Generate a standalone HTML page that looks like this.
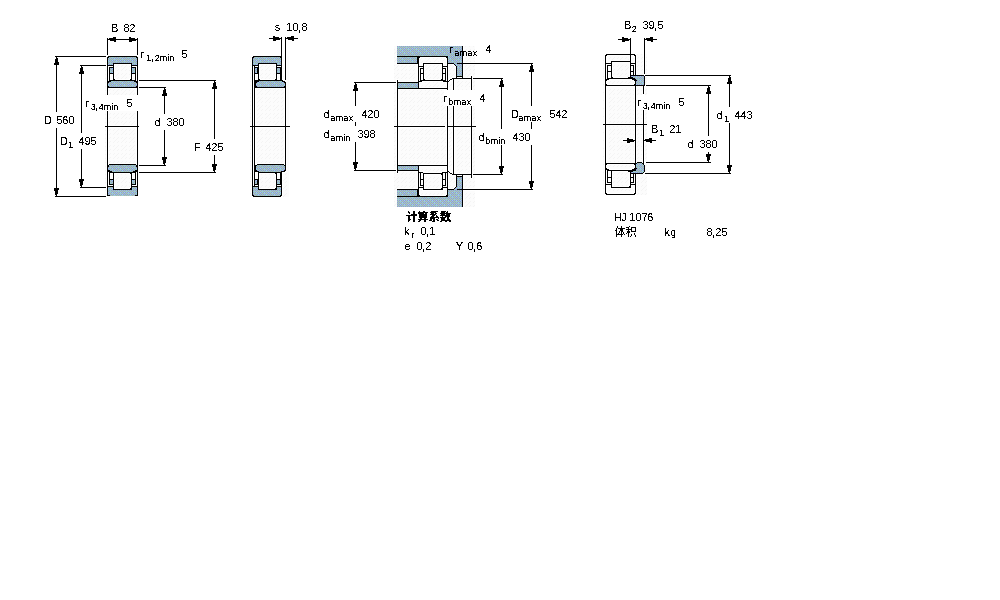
<!DOCTYPE html>
<html lang="zh">
<head>
<meta charset="utf-8">
<title>HJ 1076</title>
<style>
html,body{margin:0;padding:0;background:#fff;width:1000px;height:600px;overflow:hidden}
svg{display:block;position:absolute;left:0;top:0}
text{font-family:"Liberation Sans","Noto Sans CJK SC",sans-serif;font-size:11px;fill:#000}
.s{font-size:9px}
.cm{font-size:12px}
.c{font-family:"Liberation Sans","Noto Sans CJK SC",sans-serif;font-size:11px}
.cb{font-family:"Liberation Sans","Noto Sans CJK SC",sans-serif;font-size:11.5px;font-weight:bold}
.k{font-family:"Liberation Mono",monospace;font-size:10px}
</style>
</head>
<body>
<svg width="1000" height="600" viewBox="0 0 1000 600">
<defs>
<pattern id="d" width="8" height="8" patternUnits="userSpaceOnUse" shape-rendering="crispEdges">
<rect width="8" height="8" fill="#9cc"/>
<path fill="#99c" d="M1 0h1v1h-1zM3 0h1v1h-1zM5 0h1v1h-1zM7 0h1v1h-1zM1 2h1v1h-1zM3 2h1v1h-1zM5 2h1v1h-1zM7 2h1v1h-1zM1 4h1v1h-1zM3 4h1v1h-1zM5 4h1v1h-1zM7 4h1v1h-1zM1 6h1v1h-1zM3 6h1v1h-1zM5 6h1v1h-1zM7 6h1v1h-1zM4 1h1v1h-1zM0 5h1v1h-1z"/>
<path fill="#9cf" d="M0 0h1v1h-1zM4 0h1v1h-1zM2 2h1v1h-1zM0 4h1v1h-1zM4 4h1v1h-1z"/>
<path fill="#acacaa" d="M0 7h1v1h-1zM2 7h1v1h-1zM4 7h1v1h-1zM2 1h1v1h-1zM6 1h1v1h-1zM0 3h1v1h-1zM4 3h1v1h-1zM6 3h1v1h-1zM2 5h1v1h-1zM6 5h1v1h-1z"/>
</pattern>
<pattern id="h" width="8" height="8" patternUnits="userSpaceOnUse" shape-rendering="crispEdges">
<rect width="8" height="8" fill="#fcfcfc"/>
<path fill="#f4f4f4" d="M2 1h1v1h-1zM6 1h1v1h-1zM1 2h1v1h-1zM5 2h1v1h-1zM4 3h1v1h-1zM3 4h1v1h-1zM2 5h1v1h-1zM6 5h1v1h-1zM1 6h1v1h-1zM5 6h1v1h-1z"/>
</pattern>
<filter id="t" filterUnits="userSpaceOnUse" x="0" y="0" width="1000" height="600" color-interpolation-filters="sRGB"><feComponentTransfer><feFuncA type="discrete" tableValues="0 0 1 1 1"/></feComponentTransfer></filter>
<path id="b" d="M108 56h29v1h-29zM108 57h1v1h-1zM136 57h1v1h-1zM113 63h19v1h-19zM113 63h1v18h-1zM131 63h1v18h-1zM113 80h19v1h-19zM114 79h1v1h-1zM130 79h1v1h-1zM107 65h7v1h-7zM131 65h7v1h-7zM109 67h5v1h-5zM131 67h5v1h-5zM109 67h1v14h-1zM135 67h1v14h-1zM109 73h5v1h-5zM131 73h5v1h-5zM113 189h19v1h-19zM113 172h1v18h-1zM131 172h1v18h-1zM113 172h19v1h-19zM130 173h1v1h-1zM130 188h1v1h-1zM107 186h7v1h-7zM131 186h7v1h-7zM109 184h5v1h-5zM131 184h5v1h-5zM109 172h1v13h-1zM135 172h1v13h-1zM109 179h5v1h-5zM131 179h5v1h-5zM107 195h3v1h-3zM135 195h3v1h-3zM109 80h27v1h-27zM107 87h31v1h-31zM107 81h1v7h-1zM137 81h1v7h-1zM108 81h3v1h-3zM134 81h3v1h-3zM108 82h1v1h-1zM136 82h1v1h-1zM108 86h1v1h-1zM136 86h1v1h-1zM109 172h27v1h-27zM109 164h27v1h-27zM107 164h1v8h-1zM137 164h1v8h-1zM108 171h4v1h-4zM133 171h4v1h-4zM108 170h2v1h-2zM135 170h2v1h-2zM108 165h1v1h-1zM136 165h1v1h-1zM108 166h1v1h-1zM136 166h1v1h-1zM107 57h1v38h-1zM107 111h1v85h-1zM137 57h1v38h-1zM137 111h1v85h-1zM107 38h1v17h-1zM137 38h1v17h-1zM108 39h29v1h-29zM108 39h1v1h-1zM109 38h1v2h-1zM110 38h1v3h-1zM111 38h1v3h-1zM112 38h1v3h-1zM113 37h1v4h-1zM114 37h1v5h-1zM115 37h1v5h-1zM136 39h1v1h-1zM135 39h1v2h-1zM134 38h1v3h-1zM133 38h1v3h-1zM132 38h1v3h-1zM131 38h1v4h-1zM130 37h1v5h-1zM129 37h1v5h-1zM55 56h51v1h-51zM55 196h51v1h-51zM56 56h1v56h-1zM56 128h1v69h-1zM56 57h1v1h-1zM56 58h2v1h-2zM55 59h3v1h-3zM55 60h3v1h-3zM55 61h3v1h-3zM55 62h4v1h-4zM54 63h5v1h-5zM54 64h5v1h-5zM56 195h1v1h-1zM55 194h2v1h-2zM55 193h3v1h-3zM55 192h3v1h-3zM55 191h3v1h-3zM54 190h4v1h-4zM54 189h5v1h-5zM54 188h5v1h-5zM80 65h26v1h-26zM80 187h26v1h-26zM81 65h1v68h-1zM81 149h1v39h-1zM81 66h1v1h-1zM81 67h2v1h-2zM80 68h3v1h-3zM80 69h3v1h-3zM80 70h3v1h-3zM80 71h4v1h-4zM79 72h5v1h-5zM79 73h5v1h-5zM81 186h1v1h-1zM80 185h2v1h-2zM80 184h3v1h-3zM80 183h3v1h-3zM80 182h3v1h-3zM79 181h4v1h-4zM79 180h5v1h-5zM79 179h5v1h-5zM139 80h77v1h-77zM139 172h77v1h-77zM214 80h1v59h-1zM214 155h1v18h-1zM214 81h1v1h-1zM214 82h2v1h-2zM213 83h3v1h-3zM213 84h3v1h-3zM213 85h3v1h-3zM213 86h4v1h-4zM212 87h5v1h-5zM212 88h5v1h-5zM214 171h1v1h-1zM213 170h2v1h-2zM213 169h3v1h-3zM213 168h3v1h-3zM213 167h3v1h-3zM212 166h4v1h-4zM212 165h5v1h-5zM212 164h5v1h-5zM139 87h27v1h-27zM139 165h27v1h-27zM164 87h1v27h-1zM164 130h1v36h-1zM164 88h1v1h-1zM164 89h2v1h-2zM163 90h3v1h-3zM163 91h3v1h-3zM163 92h3v1h-3zM163 93h4v1h-4zM162 94h5v1h-5zM162 95h5v1h-5zM164 164h1v1h-1zM163 163h2v1h-2zM163 162h3v1h-3zM163 161h3v1h-3zM163 160h3v1h-3zM162 159h4v1h-4zM162 158h5v1h-5zM162 157h5v1h-5zM105 126h34v1h-34zM253 56h28v1h-28zM253 57h1v1h-1zM280 57h1v1h-1zM258 63h19v1h-19zM258 63h1v18h-1zM276 63h1v18h-1zM258 80h19v1h-19zM259 79h1v1h-1zM275 79h1v1h-1zM252 65h7v1h-7zM276 65h6v1h-6zM254 67h5v1h-5zM276 67h5v1h-5zM254 67h1v14h-1zM280 67h1v14h-1zM254 73h5v1h-5zM276 73h5v1h-5zM253 196h28v1h-28zM253 195h1v1h-1zM280 195h1v1h-1zM258 189h19v1h-19zM258 172h1v18h-1zM276 172h1v18h-1zM258 172h19v1h-19zM275 173h1v1h-1zM275 188h1v1h-1zM252 186h7v1h-7zM276 186h6v1h-6zM254 184h5v1h-5zM276 184h5v1h-5zM254 172h1v13h-1zM280 172h1v13h-1zM254 179h5v1h-5zM276 179h5v1h-5zM257 67h1v7h-1zM257 179h1v6h-1zM255 80h28v1h-28zM254 87h32v1h-32zM255 81h1v6h-1zM256 81h3v1h-3zM256 82h1v1h-1zM256 86h1v1h-1zM282 81h3v1h-3zM284 82h1v1h-1zM284 86h1v1h-1zM285 82h1v5h-1zM258 172h24v1h-24zM257 164h27v1h-27zM255 165h1v6h-1zM256 165h1v1h-1zM255 171h4v1h-4zM256 170h1v1h-1zM284 165h1v1h-1zM284 170h1v1h-1zM281 171h4v1h-4zM285 165h1v6h-1zM252 57h1v139h-1zM254 66h1v120h-1zM281 37h1v44h-1zM281 172h1v24h-1zM285 37h1v43h-1zM285 88h1v78h-1zM269 38h12v1h-12zM286 38h12v1h-12zM280 38h1v1h-1zM279 38h1v2h-1zM278 37h1v3h-1zM277 37h1v3h-1zM276 37h1v3h-1zM275 37h1v4h-1zM274 36h1v5h-1zM273 36h1v5h-1zM286 38h1v1h-1zM287 37h1v2h-1zM288 37h1v3h-1zM289 37h1v3h-1zM290 37h1v3h-1zM291 36h1v4h-1zM292 36h1v5h-1zM293 36h1v5h-1zM250 126h40v1h-40zM397 56h51v1h-51zM397 196h51v1h-51zM397 63h22v1h-22zM397 189h22v1h-22zM417 57h1v6h-1zM417 190h1v6h-1zM462 46h1v33h-1zM462 174h1v33h-1zM448 63h6v1h-6zM448 189h6v1h-6zM454 64h1v1h-1zM454 188h1v1h-1zM455 65h1v1h-1zM455 187h1v1h-1zM456 66h1v13h-1zM456 174h1v13h-1zM457 63h76v1h-76zM457 189h76v1h-76zM456 76h7v1h-7zM456 176h7v1h-7zM452 78h19v1h-19zM452 174h19v1h-19zM451 79h1v1h-1zM451 173h1v1h-1zM450 79h1v1h-1zM450 173h1v1h-1zM449 80h1v1h-1zM449 172h1v1h-1zM448 81h1v1h-1zM448 171h1v1h-1zM473 78h30v1h-30zM473 174h30v1h-30zM419 56h28v1h-28zM419 57h1v1h-1zM446 57h1v1h-1zM423 63h20v1h-20zM423 63h1v18h-1zM442 63h1v18h-1zM423 80h20v1h-20zM424 79h1v1h-1zM441 79h1v1h-1zM418 66h6v1h-6zM442 66h6v1h-6zM420 68h4v1h-4zM442 68h4v1h-4zM420 68h1v13h-1zM445 68h1v13h-1zM420 73h4v1h-4zM442 73h4v1h-4zM419 196h28v1h-28zM419 195h1v1h-1zM446 195h1v1h-1zM423 189h20v1h-20zM423 173h1v17h-1zM442 173h1v17h-1zM423 173h20v1h-20zM441 174h1v1h-1zM441 188h1v1h-1zM418 187h6v1h-6zM442 187h6v1h-6zM420 185h4v1h-4zM442 185h4v1h-4zM420 173h1v13h-1zM445 173h1v13h-1zM420 179h4v1h-4zM442 179h4v1h-4zM418 81h4v1h-4zM443 81h5v1h-5zM420 80h26v1h-26zM418 172h5v1h-5zM442 172h6v1h-6zM418 56h1v33h-1zM418 165h1v32h-1zM447 56h1v34h-1zM453 78h1v12h-1zM471 76h1v14h-1zM447 106h1v91h-1zM453 106h1v69h-1zM471 106h1v72h-1zM397 82h22v1h-22zM397 88h51v1h-51zM397 170h22v1h-22zM397 165h51v1h-51zM397 80h1v93h-1zM394 126h51v1h-51zM448 126h28v1h-28zM354 82h42v1h-42zM354 170h42v1h-42zM355 82h1v24h-1zM355 122h1v4h-1zM355 142h1v29h-1zM355 83h1v1h-1zM355 84h2v1h-2zM354 85h3v1h-3zM354 86h3v1h-3zM354 87h3v1h-3zM354 88h4v1h-4zM353 89h5v1h-5zM353 90h5v1h-5zM355 169h1v1h-1zM354 168h2v1h-2zM354 167h3v1h-3zM354 166h3v1h-3zM354 165h3v1h-3zM353 164h4v1h-4zM353 163h5v1h-5zM353 162h5v1h-5zM501 78h1v51h-1zM501 145h1v30h-1zM501 79h1v1h-1zM501 80h2v1h-2zM500 81h3v1h-3zM500 82h3v1h-3zM500 83h3v1h-3zM500 84h4v1h-4zM499 85h5v1h-5zM499 86h5v1h-5zM501 173h1v1h-1zM500 172h2v1h-2zM500 171h3v1h-3zM500 170h3v1h-3zM500 169h3v1h-3zM499 168h4v1h-4zM499 167h5v1h-5zM499 166h5v1h-5zM531 63h1v43h-1zM531 122h1v7h-1zM531 145h1v45h-1zM531 64h1v1h-1zM531 65h2v1h-2zM530 66h3v1h-3zM530 67h3v1h-3zM530 68h3v1h-3zM530 69h4v1h-4zM529 70h5v1h-5zM529 71h5v1h-5zM531 188h1v1h-1zM530 187h2v1h-2zM530 186h3v1h-3zM530 185h3v1h-3zM530 184h3v1h-3zM529 183h4v1h-4zM529 182h5v1h-5zM529 181h5v1h-5zM606 54h29v1h-29zM606 55h1v1h-1zM634 55h1v1h-1zM611 61h20v1h-20zM611 61h1v18h-1zM630 61h1v18h-1zM611 78h20v1h-20zM612 77h1v1h-1zM629 77h1v1h-1zM605 63h7v1h-7zM630 63h6v1h-6zM607 65h5v1h-5zM630 65h4v1h-4zM607 65h1v14h-1zM633 65h1v14h-1zM607 71h5v1h-5zM630 71h4v1h-4zM606 194h29v1h-29zM606 193h1v1h-1zM634 193h1v1h-1zM611 187h20v1h-20zM611 170h1v18h-1zM630 170h1v18h-1zM611 170h20v1h-20zM629 171h1v1h-1zM629 186h1v1h-1zM605 184h7v1h-7zM630 184h6v1h-6zM607 182h5v1h-5zM630 182h4v1h-4zM607 170h1v13h-1zM633 170h1v13h-1zM607 177h5v1h-5zM630 177h4v1h-4zM607 78h27v1h-27zM605 85h31v1h-31zM605 79h1v7h-1zM635 79h1v7h-1zM606 79h3v1h-3zM632 79h3v1h-3zM606 80h1v1h-1zM634 80h1v1h-1zM606 84h1v1h-1zM634 84h1v1h-1zM607 170h27v1h-27zM605 163h31v1h-31zM605 163h1v7h-1zM635 163h1v7h-1zM606 169h3v1h-3zM632 169h3v1h-3zM606 168h1v1h-1zM634 168h1v1h-1zM606 164h1v1h-1zM634 164h1v1h-1zM605 55h1v139h-1zM635 55h1v139h-1zM630 38h1v24h-1zM644 38h1v36h-1zM618 39h12v1h-12zM645 39h12v1h-12zM629 39h1v1h-1zM628 39h1v2h-1zM627 38h1v3h-1zM626 38h1v3h-1zM625 38h1v3h-1zM624 38h1v4h-1zM623 37h1v5h-1zM622 37h1v5h-1zM645 39h1v1h-1zM646 38h1v2h-1zM647 38h1v3h-1zM648 38h1v3h-1zM649 38h1v3h-1zM650 37h1v4h-1zM651 37h1v5h-1zM652 37h1v5h-1zM645 75h86v1h-86zM645 173h86v1h-86zM646 85h65v1h-65zM646 162h65v1h-65zM729 75h1v32h-1zM729 123h1v51h-1zM729 76h1v1h-1zM729 77h2v1h-2zM728 78h3v1h-3zM728 79h3v1h-3zM728 80h3v1h-3zM728 81h4v1h-4zM727 82h5v1h-5zM727 83h5v1h-5zM729 172h1v1h-1zM728 171h2v1h-2zM728 170h3v1h-3zM728 169h3v1h-3zM728 168h3v1h-3zM727 167h4v1h-4zM727 166h5v1h-5zM727 165h5v1h-5zM708 85h1v51h-1zM708 152h1v11h-1zM708 86h1v1h-1zM708 87h2v1h-2zM707 88h3v1h-3zM707 89h3v1h-3zM707 90h3v1h-3zM707 91h4v1h-4zM706 92h5v1h-5zM706 93h5v1h-5zM708 161h1v1h-1zM707 160h2v1h-2zM707 159h3v1h-3zM707 158h3v1h-3zM707 157h3v1h-3zM706 156h4v1h-4zM706 155h5v1h-5zM706 154h5v1h-5zM643 85h1v9h-1zM643 110h1v54h-1zM623 140h12v1h-12zM644 140h12v1h-12zM634 140h1v1h-1zM633 140h1v2h-1zM632 139h1v3h-1zM631 139h1v3h-1zM630 139h1v3h-1zM629 139h1v4h-1zM628 138h1v5h-1zM627 138h1v5h-1zM644 140h1v1h-1zM645 139h1v2h-1zM646 139h1v3h-1zM647 139h1v3h-1zM648 139h1v3h-1zM649 138h1v4h-1zM650 138h1v5h-1zM651 138h1v5h-1zM603 124h44v1h-44z"/>
</defs>
<g shape-rendering="crispEdges">
<path fill="url(#h)" d="M105 56h34v140h-34zM250 56h39v141h-39zM394 46h81v161h-81zM603 54h44v141h-44z"/>
<path fill="#fff" d="M86 95h55v16h-55zM444 90h47v16h-47zM637 95h54v15h-54z"/>
<use href="#b" fill="none" stroke="#fff" stroke-width="2"/>
<path fill="url(#d)" d="M108 57h29v6h-29zM108 63h5v2h-5zM132 63h5v2h-5zM110 68h3v5h-3zM132 68h3v5h-3zM108 190h29v6h-29zM108 187h5v3h-5zM132 187h5v3h-5zM110 180h3v4h-3zM132 180h3v4h-3zM108 81h29v6h-29zM108 165h29v7h-29zM253 57h28v6h-28zM253 63h5v2h-5zM277 63h4v2h-4zM255 68h3v5h-3zM277 68h3v5h-3zM253 190h28v6h-28zM253 187h5v3h-5zM277 187h4v3h-4zM255 180h3v4h-3zM277 180h3v4h-3zM256 81h29v6h-29zM256 165h29v7h-29zM397 46h65v10h-65zM397 197h65v10h-65zM448 56h14v7h-14zM448 190h14v7h-14zM397 57h20v6h-20zM397 190h20v6h-20zM454 63h3v1h-3zM454 189h3v1h-3zM455 64h2v1h-2zM455 188h2v1h-2zM456 65h1v1h-1zM456 187h1v1h-1zM457 63h5v13h-5zM457 177h5v13h-5zM398 83h20v5h-20zM398 166h20v4h-20z"/>
<use href="#b" fill="#000"/>
<path fill="url(#d)" d="M631 76h13v1h-13zM633 77h11v1h-11zM635 78h9v1h-9zM636 79h8v6h-8zM637 163h5v1h-5zM636 164h7v1h-7zM636 165h8v6h-8zM633 171h11v1h-11zM631 172h12v1h-12z"/>
<path fill="#000" d="M630 75h14v1h-14zM644 76h1v9h-1zM636 85h9v1h-9zM628 77h5v1h-5zM630 78h5v1h-5zM633 79h3v1h-3zM635 80h2v1h-2zM637 162h5v1h-5zM636 163h1v1h-1zM642 163h1v1h-1zM643 164h1v1h-1zM644 165h1v7h-1zM643 172h1v1h-1zM630 173h13v1h-13zM635 168h2v1h-2zM633 169h3v1h-3zM630 170h5v1h-5zM628 171h5v1h-5z"/>
</g>
<g filter="url(#t)">
<text x="111 120.5 123.5 129.25" y="32">B 82</text>
<text x="140.25 146 151 154.75 159.75 167.25 169.25 178.5 181.5" y="58">r<tspan class="s" dy="3">1</tspan><tspan class="cm">,</tspan><tspan class="s">2min </tspan><tspan dy="-3">5</tspan></text>
<text x="44 53.5 56.5 62.25 68.5" y="124">D 560</text>
<text x="85.25 90.75 95 98.75 103.75 111.25 113.25 123.5 126.5" y="107">r<tspan class="s" dy="3">3</tspan><tspan class="cm">,</tspan><tspan class="s">4min </tspan><tspan dy="-3">5</tspan></text>
<text x="60 68 75.5 78.5 84.5 90.5" y="145">D<tspan class="s" dy="3">1 </tspan><tspan dy="-3">495</tspan></text>
<text x="154.5 163.5 166.5 172.5 178.5" y="126">d 380</text>
<text x="194 202.5 205.5 211.25 217.5" y="151">F 425</text>
<text x="274.75 283.25 286.25 292.5 298 301.5" y="31">s 10<tspan class="cm" dy="1">,</tspan><tspan dy="-1">8</tspan></text>
<text x="449.25 454.25 459.75 467.25 472.5 482.5 485.5" y="53">r<tspan class="s" dy="3">amax </tspan><tspan dy="-3">4</tspan></text>
<text x="443.25 448.25 453.75 461.25 466.5 476.5 479.5" y="102">r<tspan class="s" dy="3">bmax </tspan><tspan dy="-3">4</tspan></text>
<text x="323.5 330.25 335.75 343.25 348.5 358.5 361.5 367.25 373.5" y="118">d<tspan class="s" dy="3">amax </tspan><tspan dy="-3">420</tspan></text>
<text x="323.5 330.25 335.75 343.25 345.25 354.5 357.5 363.5 369.5" y="138">d<tspan class="s" dy="3">amin </tspan><tspan dy="-3">398</tspan></text>
<text x="511 518.25 523.75 531.25 536.5 546.5 549.5 555.5 561.25" y="118">D<tspan class="s" dy="3">amax </tspan><tspan dy="-3">542</tspan></text>
<text x="478.5 485.25 490.75 498.25 500.25 509.5 512.5 518.5 524.5" y="141">d<tspan class="s" dy="3">bmin </tspan><tspan dy="-3">430</tspan></text>
<text x="406 417.25 428.5 439.75" y="220.5" class="cb">计算系数</text>
<text x="404 411.25 417.5 420.5 426 429.25" y="235">k<tspan class="s" dy="3">r </tspan><tspan dy="-3">0</tspan><tspan class="cm" dy="1">,</tspan><tspan dy="-1">1</tspan></text>
<text x="404.5 413.5 416.5 422 425.25" y="250">e 0<tspan class="cm" dy="1">,</tspan><tspan dy="-1">2</tspan></text>
<text x="455.75 464.5 467.5 473 476.25" y="250">Y 0<tspan class="cm" dy="1">,</tspan><tspan dy="-1">6</tspan></text>
<text x="624 631.75 639.5 642.5 648.5 654 657.5" y="29">B<tspan class="s" dy="3">2 </tspan><tspan dy="-3">39</tspan><tspan class="cm" dy="1">,</tspan><tspan dy="-1">5</tspan></text>
<text x="637.25 642.75 647 650.75 655.75 663.25 665.25 675.5 678.5" y="106">r<tspan class="s" dy="3">3</tspan><tspan class="cm">,</tspan><tspan class="s">4min </tspan><tspan dy="-3">5</tspan></text>
<text x="651 659 666.25 669.25 675.25" y="133">B<tspan class="s" dy="3">1 </tspan><tspan dy="-3">21</tspan></text>
<text x="716.5 724 731.5 734.5 740.5 746.5" y="119">d<tspan class="s" dy="3">1 </tspan><tspan dy="-3">443</tspan></text>
<text x="687.5 696.5 699.5 705.5 711.5" y="148">d 380</text>
<text x="614 621.25 627 629.25 635.5 641.75 647.25" y="221">HJ 1076</text>
<text x="614.5" y="235.5" class="c">体积</text>
<text x="664.25" y="236" class="k">kg</text>
<text x="706.5 712 715.25 721.5" y="236">8<tspan class="cm" dy="1">,</tspan><tspan dy="-1">25</tspan></text>
</g>
</svg>
</body>
</html>
